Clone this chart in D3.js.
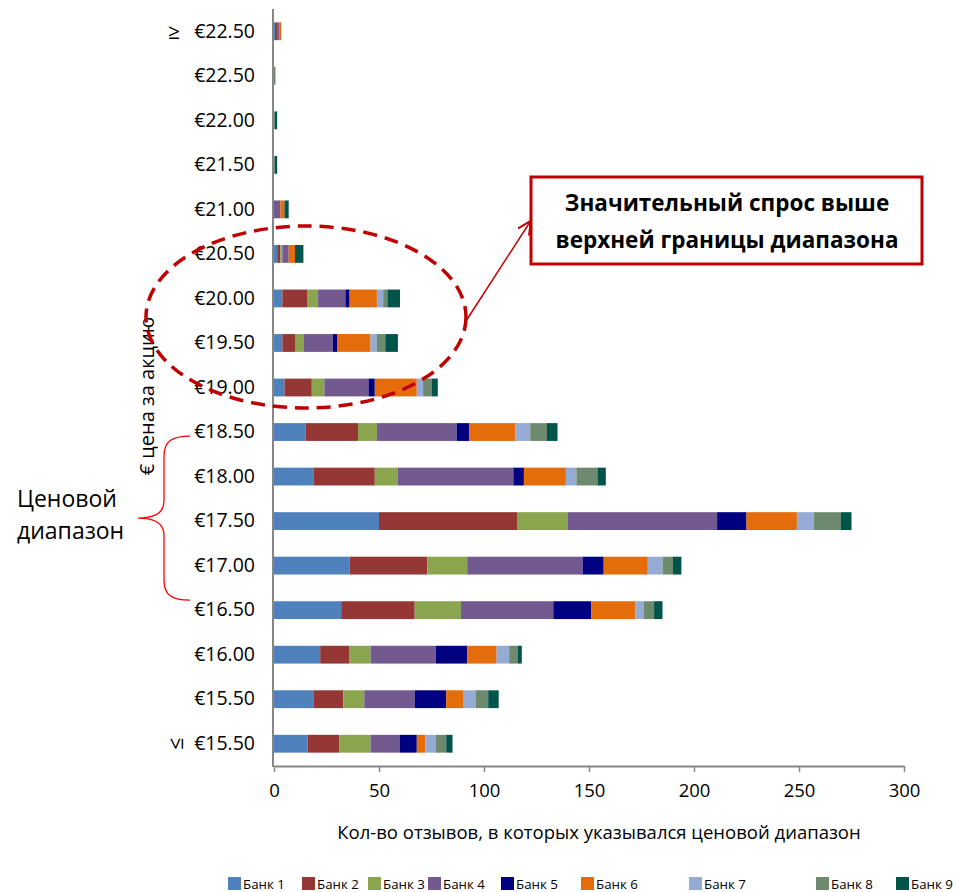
<!DOCTYPE html>
<html>
<head>
<meta charset="utf-8">
<script src="https://cdnjs.cloudflare.com/ajax/libs/d3/7.8.5/d3.min.js"></script>
<style>
  body { margin: 0; background: #fff; }
  text { font-family: "Open Sans", "Liberation Sans", sans-serif; fill: #000; }
</style>
</head>
<body>
<svg id="chart" width="956" height="892"></svg>
<script>
// price buckets, top to bottom
var categories = ['≥ €22.50', '€22.50', '€22.00', '€21.50', '€21.00', '€20.50', '€20.00', '€19.50',
  '€19.00', '€18.50', '€18.00', '€17.50', '€17.00', '€16.50', '€16.00', '€15.50', '≤ €15.50']

var banks = ['Банк 1', 'Банк 2', 'Банк 3', 'Банк 4', 'Банк 5', 'Банк 6', 'Банк 7', 'Банк 8', 'Банк 9']

var bank1 = [0.5, 0, 0, 0, 0, 1.5, 4, 4, 5, 15, 19, 50, 36, 32, 22, 19, 16]
  , bank2 = [1, 0, 0, 0, 0, 1.5, 12, 6, 13, 25, 29, 66, 37, 35, 14, 14, 15]
  , bank3 = [0, 0, 0, 0, 0, 1, 5, 4, 6, 9, 11, 24, 19, 22, 10, 10, 15]
  , bank4 = [1, 0, 0, 0, 3, 3, 13, 14, 21, 38, 55, 71, 55, 44, 31, 24, 14]
  , bank5 = [0, 0, 0, 0, 0, 0, 2, 2, 3, 6, 5, 14, 10, 18, 15, 15, 8]
  , bank6 = [1, 0, 0, 0, 2, 3, 13, 16, 20, 22, 20, 24, 21, 21, 14, 8, 4]
  , bank7 = [0, 0, 0, 0, 0, 0, 3, 3, 3, 7, 5, 8, 7, 4, 6, 6, 5]
  , bank8 = [0, 0.7, 0.3, 0.3, 0, 0, 2, 4, 4, 8, 10, 13, 5, 5, 4, 6, 5]
  , bank9 = [0, 0, 1.2, 1.2, 2, 4, 6, 6, 3, 5, 4, 5, 4, 4, 2, 5, 3]

var xTicks = [0, 50, 100, 150, 200, 250, 300]

var colors = ['#4f81bd', '#953735', '#8aa54e', '#725990', '#000080', '#e46c0a', '#95abd3', '#6d896e', '#00544a']

var series = [bank1, bank2, bank3, bank4, bank5, bank6, bank7, bank8, bank9]

var svg = d3.select('svg#chart')

var x = d3.scaleLinear().domain([0, 300]).range([274, 904])
  , y = d3.scaleBand().domain(categories).range([9, 766]).paddingInner(0.6).paddingOuter(0.3)

var rows = categories.map(function(c, i) {
  var r = { cat: c }
  banks.forEach(function(b, j) { r[b] = series[j][i] })
  return r
})

var stacked = d3.stack().keys(banks)(rows)

svg.append('g').selectAll('g').data(stacked)
  .enter().append('g').attr('fill', function(d, i) { return colors[i] })
  .selectAll('rect').data(function(d) { return d })
  .enter().append('rect')
    .attr('x', function(d) { return x(d[0]) })
    .attr('y', function(d) { return y(d.data.cat) })
    .attr('width', function(d) { return x(d[1]) - x(d[0]) })
    .attr('height', y.bandwidth())

// x axis
var xAxis = svg.append('g').attr('transform', 'translate(0,766)')
  .call(d3.axisBottom(x).tickValues(xTicks).tickSize(6).tickPadding(12).tickSizeOuter(0))
xAxis.select('.domain').attr('stroke', '#868686').attr('stroke-width', 2)
xAxis.selectAll('.tick line').attr('stroke', '#868686').attr('stroke-width', 1.5)
xAxis.selectAll('.tick text').style('font-size', '18.5px').attr('fill', '#000')

// y axis
var yAxis = svg.append('g').attr('transform', 'translate(273,0)')
  .call(d3.axisLeft(y).tickSize(0).tickPadding(18)
    .tickFormat(function(d) { return d.split(' ').pop() }))
yAxis.select('.domain').attr('stroke', '#868686').attr('stroke-width', 2)
  .attr('d', 'M0,9V767')
yAxis.selectAll('.tick text').style('font-size', '19.5px').attr('fill', '#000')

// ≥ / ≤ prefixes
svg.append('text').attr('x', 174).attr('y', y(categories[0]) + y.bandwidth() / 2)
  .attr('dy', '0.35em').attr('text-anchor', 'middle').style('font-size', '21px').text('≥')
var lastY = y(categories[categories.length - 1]) + y.bandwidth() / 2
svg.append('text').attr('transform', 'translate(176,' + lastY + ') rotate(-90)')
  .attr('dy', '0.35em').attr('text-anchor', 'middle').style('font-size', '21px').text('≤')

// axis titles
svg.append('text').attr('x', 599).attr('y', 839).attr('text-anchor', 'middle')
  .style('font-size', '18.5px').text('Кол-во отзывов, в которых указывался ценовой диапазон')
svg.append('text').attr('transform', 'translate(154,396) rotate(-90)')
  .attr('text-anchor', 'middle').style('font-size', '20px').text('€ цена за акцию')

// price range brace
var bTop = y('€18.50') + y.bandwidth() / 2 + 4
  , bBot = y('€16.50') + y.bandwidth() / 2 - 10
  , bMid = (bTop + bBot) / 2
svg.append('path')
  .attr('d', 'M190,' + bTop + ' C172,' + bTop + ' 164,' + (bTop + 5) + ' 164,' + (bTop + 20) +
    ' L164,' + (bMid - 17) + ' C164,' + (bMid - 5) + ' 155,' + bMid + ' 138,' + bMid +
    ' C155,' + bMid + ' 164,' + (bMid + 5) + ' 164,' + (bMid + 17) +
    ' L164,' + (bBot - 20) + ' C164,' + (bBot - 5) + ' 172,' + bBot + ' 190,' + bBot)
  .attr('fill', 'none').attr('stroke', '#ff0000').attr('stroke-width', 1.3)

var lbl = svg.append('text').attr('x', 17).attr('y', 507).style('font-size', '23px')
lbl.append('tspan').attr('x', 17).text('Ценовой')
lbl.append('tspan').attr('x', 17).attr('dy', 32).text('диапазон')

// dashed ellipse around the demand above the range
svg.append('ellipse')
  .attr('cx', 306).attr('cy', 317).attr('rx', 160).attr('ry', 91)
  .attr('fill', 'none').attr('stroke', '#c00000').attr('stroke-width', 3.5)
  .attr('stroke-dasharray', '14,8')

// callout
svg.append('defs').append('marker').attr('id', 'arr')
  .attr('viewBox', '0 0 10 10').attr('refX', 9).attr('refY', 5)
  .attr('markerWidth', 9).attr('markerHeight', 9).attr('orient', 'auto')
  .append('path').attr('d', 'M0,0 L10,5 L0,10').attr('fill', 'none')
  .attr('stroke', '#c00000').attr('stroke-width', 1.5)

svg.append('line').attr('x1', 466).attr('y1', 321).attr('x2', 530).attr('y2', 222)
  .attr('stroke', '#c00000').attr('stroke-width', 1.5).attr('marker-end', 'url(#arr)')

svg.append('rect').attr('x', 531).attr('y', 177).attr('width', 391).attr('height', 87)
  .attr('fill', '#fff').attr('stroke', '#c00000').attr('stroke-width', 3)

var call = svg.append('text').attr('text-anchor', 'middle').style('font-size', '22.5px')
  .style('font-weight', 'bold')
call.append('tspan').attr('x', 727).attr('y', 211).text('Значительный спрос выше')
call.append('tspan').attr('x', 727).attr('y', 248).text('верхней границы диапазона')

// legend
var legendX = [228, 302, 368, 428, 501, 581, 689, 816, 896]
var leg = svg.append('g').selectAll('g').data(banks)
  .enter().append('g').attr('transform', function(d, i) { return 'translate(' + legendX[i] + ',877)' })
leg.append('rect').attr('width', 13).attr('height', 13).attr('fill', function(d, i) { return colors[i] })
leg.append('text').attr('x', 15).attr('y', 7).attr('dy', '0.35em').style('font-size', '13.3px')
  .text(function(d) { return d })
</script>
</body>
</html>
